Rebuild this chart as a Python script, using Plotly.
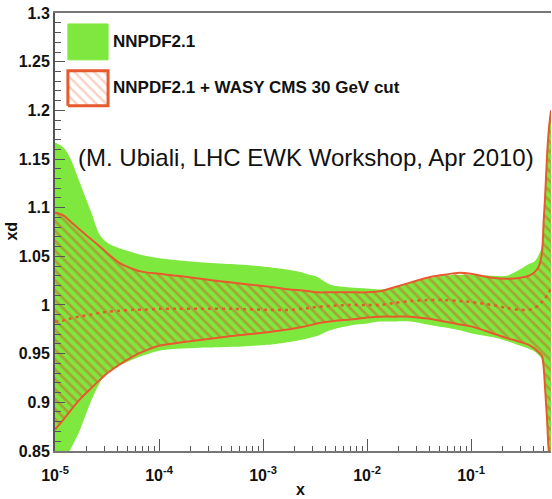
import plotly.graph_objects as go

# x grid and bands
x = [1.0e-5, 1.2e-5, 1.4e-5, 1.7e-5, 2.2e-5, 2.7e-5, 3.2e-5, 4.2e-5, 5.6e-5, 7e-5,
     1.0e-4, 1.5e-4, 2.5e-4, 5e-4, 1.1e-3, 1.8e-3, 2.3e-3, 2.8e-3, 3.3e-3, 4.4e-3,
     6.9e-3, 1.0e-2, 1.33e-2, 1.8e-2, 2.6e-2, 3.8e-2, 5.5e-2, 7.8e-2, 0.1, 0.16,
     0.22, 0.3, 0.36, 0.41, 0.45, 0.48, 0.5, 0.515, 0.54, 0.56, 0.587]

nnpdf_hi = [1.167, 1.162, 1.151, 1.128, 1.097, 1.072, 1.064, 1.058, 1.054, 1.051,
            1.048, 1.046, 1.044, 1.042, 1.039, 1.036, 1.034, 1.031, 1.029, 1.021,
            1.018, 1.017, 1.016, 1.018, 1.023, 1.027, 1.030, 1.031, 1.031, 1.030,
            1.030, 1.037, 1.042, 1.045, 1.052, 1.060, 1.088, 1.110, 1.156, 1.180, 1.200]
nnpdf_lo = [0.820, 0.835, 0.851, 0.869, 0.900, 0.920, 0.931, 0.938, 0.944, 0.948,
            0.953, 0.955, 0.956, 0.957, 0.959, 0.962, 0.964, 0.966, 0.968, 0.974,
            0.979, 0.981, 0.983, 0.983, 0.983, 0.980, 0.977, 0.974, 0.971, 0.967,
            0.963, 0.958, 0.955, 0.952, 0.948, 0.944, 0.930, 0.910, 0.870, 0.845, 0.830]

wasy_hi = [1.095, 1.092, 1.086, 1.078, 1.068, 1.060, 1.053, 1.043, 1.037, 1.034,
           1.032, 1.030, 1.027, 1.023, 1.019, 1.016, 1.015, 1.014, 1.013, 1.013,
           1.013, 1.013, 1.014, 1.018, 1.023, 1.028, 1.031, 1.033, 1.032, 1.028,
           1.027, 1.028, 1.030, 1.034, 1.040, 1.053, 1.087, 1.110, 1.156, 1.180, 1.200]
wasy_lo = [0.872, 0.882, 0.891, 0.902, 0.914, 0.923, 0.930, 0.939, 0.947, 0.952,
           0.958, 0.961, 0.964, 0.968, 0.972, 0.975, 0.977, 0.979, 0.981, 0.983,
           0.985, 0.987, 0.988, 0.988, 0.988, 0.986, 0.983, 0.980, 0.978, 0.971,
           0.966, 0.962, 0.959, 0.955, 0.951, 0.948, 0.935, 0.915, 0.880, 0.850, 0.840]
wasy_mid = [0.983, 0.984, 0.986, 0.988, 0.990, 0.992, 0.993, 0.994, 0.995, 0.995,
            0.996, 0.996, 0.996, 0.996, 0.995, 0.995, 0.996, 0.997, 0.998, 0.999,
            1.000, 1.000, 1.000, 1.002, 1.004, 1.005, 1.005, 1.004, 1.003, 1.000,
            0.997, 0.995, 0.995, 0.997, 1.000, 1.003, 1.006, 1.007, 1.010, 1.013, 1.016]

decades = [1e-5, 1e-4, 1e-3, 1e-2, 1e-1]
decade_labels = ['10<sup>-5</sup>', '10<sup>-4</sup>', '10<sup>-3</sup>',
                 '10<sup>-2</sup>', '10<sup>-1</sup>']
series_names = ['NNPDF2.1', 'NNPDF2.1 + WASY CMS 30 GeV cut']

GREEN = '#7fe83f'
ORANGE = '#e65a2e'
FONT = 'Liberation Sans'
SMOOTH = dict(shape='spline', smoothing=0.9)

fig = go.Figure()

# NNPDF2.1 band
fig.add_trace(go.Scatter(x=x + x[::-1], y=nnpdf_hi + nnpdf_lo[::-1], mode='lines',
                         fill='toself', fillcolor=GREEN, line=dict(width=0, **SMOOTH),
                         hoverinfo='skip'))
# reweighted band, hatched
fig.add_trace(go.Scatter(x=x + x[::-1], y=wasy_hi + wasy_lo[::-1], mode='lines',
                         fill='toself', fillcolor='rgba(0,0,0,0)',
                         fillpattern=dict(shape='\\', fgcolor='#d0602c', bgcolor='rgba(0,0,0,0)',
                                          size=7, solidity=0.4),
                         line=dict(width=0, **SMOOTH), hoverinfo='skip'))
for yy in (wasy_hi, wasy_lo):
    fig.add_trace(go.Scatter(x=x, y=yy, mode='lines',
                             line=dict(color=ORANGE, width=2, **SMOOTH), hoverinfo='skip'))
fig.add_trace(go.Scatter(x=x, y=wasy_mid, mode='lines',
                         line=dict(color=ORANGE, width=2.5, dash='3px,4px', **SMOOTH),
                         hoverinfo='skip'))

# legend swatches drawn on an overlay axis in plot fractions
x0, x1 = 0.026, 0.107
fig.add_trace(go.Scatter(x=[x0, x1, x1, x0, x0], y=[0.893, 0.893, 0.975, 0.975, 0.893],
                         xaxis='x2', yaxis='y2', mode='lines', fill='toself',
                         fillcolor=GREEN, line=dict(color=GREEN, width=1), hoverinfo='skip'))
fig.add_trace(go.Scatter(x=[x0, x1, x1, x0, x0], y=[0.788, 0.788, 0.868, 0.868, 0.788],
                         xaxis='x2', yaxis='y2', mode='lines', fill='toself',
                         fillcolor='white',
                         fillpattern=dict(shape='\\', fgcolor='#f3a48c', bgcolor='white',
                                          size=7, solidity=0.35),
                         line=dict(color=ORANGE, width=3), hoverinfo='skip'))

axis_font = dict(family=FONT, size=16, color='#111', weight='bold')
minor_x = [m * d for d in decades for m in range(2, 10)]

fig.update_layout(
    width=552, height=499,
    margin=dict(l=55, r=1, t=13, b=48, autoexpand=False),
    paper_bgcolor='white', plot_bgcolor='white',
    showlegend=False,
    xaxis=dict(type='log', range=[-5, -0.231], tickmode='array', tickvals=decades,
               ticktext=decade_labels, ticks='inside', ticklen=12, tickcolor='#555',
               showline=True, linecolor='#777', linewidth=2, mirror=True,
               showgrid=False, zeroline=False, tickfont=axis_font, automargin=False,
               ticklabelstandoff=9,
               minor=dict(tickvals=minor_x, ticks='inside', ticklen=5, tickcolor='#555',
                          showgrid=False)),
    yaxis=dict(range=[0.8499, 1.3001], tick0=0.85, dtick=0.05, ticks='inside', ticklen=10,
               tickcolor='#555', showline=True, linecolor='#555', linewidth=2,
               showgrid=False, zeroline=False, tickfont=axis_font, automargin=False,
               minor=dict(dtick=0.01, ticks='inside', ticklen=6, tickcolor='#555',
                          showgrid=False)),
    xaxis2=dict(overlaying='x', anchor='y2', range=[0, 1], visible=False),
    yaxis2=dict(overlaying='y', anchor='x2', range=[0, 1], visible=False),
    annotations=[
        dict(text=series_names[0], xref='paper', yref='paper', x=0.112, y=0.934,
             xanchor='left', yanchor='middle', showarrow=False,
             font=dict(family=FONT, size=17, color='#111', weight='bold')),
        dict(text=series_names[1], xref='paper', yref='paper', x=0.112, y=0.829,
             xanchor='left', yanchor='middle', showarrow=False,
             font=dict(family=FONT, size=17, color='#111', weight='bold')),
        dict(text='(M. Ubiali, LHC EWK Workshop, Apr 2010)', xref='paper', yref='paper',
             x=0.506, y=0.671, xanchor='center', yanchor='middle', showarrow=False,
             font=dict(family=FONT, size=24, color='#111')),
        dict(text='xd', xref='paper', yref='paper', x=-0.087, y=0.503, textangle=-90,
             xanchor='center', yanchor='middle', showarrow=False,
             font=dict(family=FONT, size=16, color='#111', weight='bold')),
        dict(text='x', xref='paper', yref='paper', x=0.494, y=-0.089,
             xanchor='center', yanchor='middle', showarrow=False,
             font=dict(family=FONT, size=16, color='#111', weight='bold')),
    ],
)

fig.write_html("out.html", config={'displayModeBar': False},
               post_script="document.body.style.margin='0px';")
